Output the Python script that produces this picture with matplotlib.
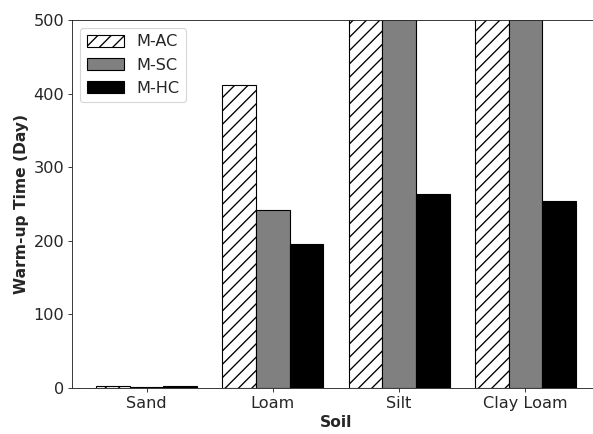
import numpy as np
import matplotlib.pyplot as plt

# warm-up time (days) per soil type; bars above 500 run off the top of the axes
soils = ['Sand', 'Loam', 'Silt', 'Clay Loam']
m_ac = [3, 412, 600, 600]
m_sc = [2, 242, 600, 600]
m_hc = [3, 195, 264, 254]

dark = '#262626'
plt.rcParams['text.color'] = dark
plt.rcParams['axes.labelcolor'] = dark
plt.rcParams['xtick.color'] = dark
plt.rcParams['ytick.color'] = dark
plt.rcParams['axes.edgecolor'] = dark
plt.rcParams['hatch.linewidth'] = 1.2

dpi = 80
fig = plt.figure(figsize=(593 / dpi, 434 / dpi), dpi=dpi)
ax = fig.add_axes([72 / 593, 46 / 434, 528 / 593, 368 / 434])

x = np.arange(len(soils))
w = 0.8 / 3
ax.bar(x - w, m_ac, w, color='white', edgecolor='black', hatch='//', label='M-AC')
ax.bar(x, m_sc, w, color='#808080', edgecolor='black', label='M-SC')
ax.bar(x + w, m_hc, w, color='black', edgecolor='black', label='M-HC')

ax.set_xlim(-0.59, 3.59)
ax.set_ylim(0, 500)
ax.set_xticks(x)
ax.set_xticklabels(soils)
ax.tick_params(labelsize=14.5)
ax.set_xlabel('Soil', fontsize=14, fontweight='bold')
ax.set_ylabel('Warm-up Time (Day)', fontsize=14, fontweight='bold')
ax.legend(loc='upper left', fontsize=14.5, handlelength=2.3)

fig.savefig('out.png', dpi=dpi)
